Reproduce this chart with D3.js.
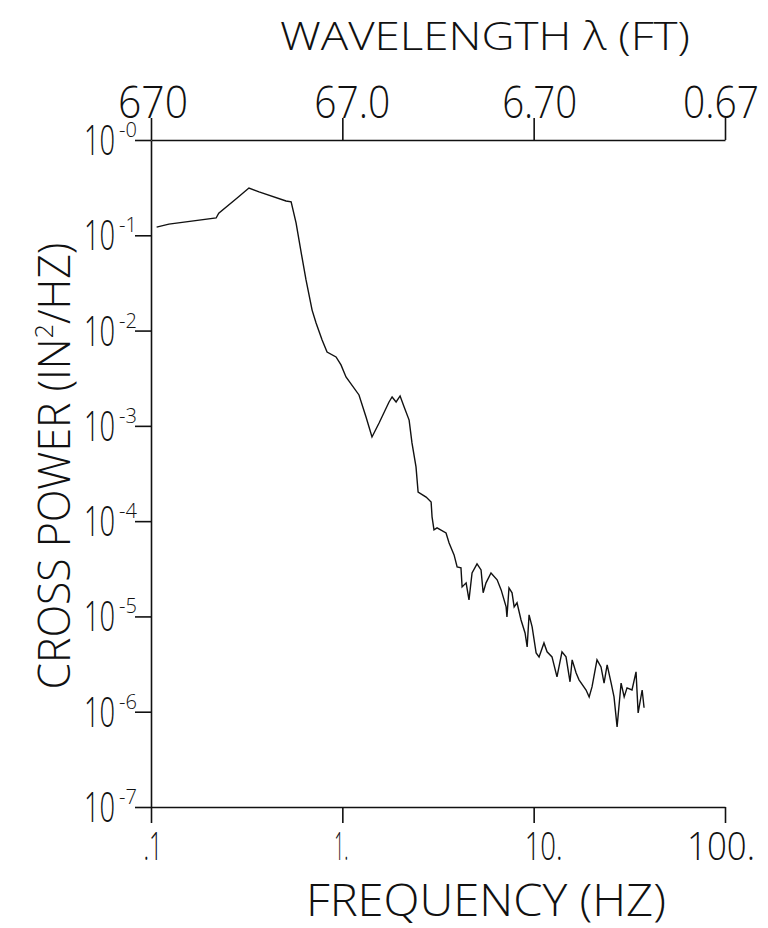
<!DOCTYPE html>
<html>
<head>
<meta charset="utf-8">
<script src="https://cdn.jsdelivr.net/npm/d3@7"></script>
<style>
  body { margin: 0; background: #fff; }
  text { font-family: "Open Sans", "DejaVu Sans", sans-serif; font-weight: 300; fill: #111; }
  .axis path, .axis line { stroke: #111; stroke-width: 1.6; }
</style>
</head>
<body>
<div id="chart"></div>
<script>
// cross power spectrum, log-log

const freqTicks = [0.1, 1, 10, 100];
const freqLabels = [".1", "1.", "10.", "100."];
const lambdaTicks = [670, 67, 6.7, 0.67];
const lambdaLabels = ["670", "67.0", "6.70", "0.67"];
const powerTicks = [1, 1e-1, 1e-2, 1e-3, 1e-4, 1e-5, 1e-6, 1e-7];
const powerExp = ["-0", "-1", "-2", "-3", "-4", "-5", "-6", "-7"];

const freq = [0.107, 0.124, 0.219, 0.226, 0.282, 0.325, 0.367, 0.508, 0.540, 0.573,
  0.615, 0.646, 0.695, 0.729, 0.784, 0.832, 0.927, 0.984, 1.045, 1.222,
  1.330, 1.429, 1.556, 1.754, 1.820, 1.910, 2.004, 2.104, 2.234, 2.312,
  2.427, 2.489, 2.741, 2.911, 2.944, 3.013, 3.126, 3.483, 3.614, 3.837,
  3.981, 4.169, 4.227, 4.436, 4.592, 4.764, 5.058, 5.309, 5.445, 5.636,
  5.984, 6.442, 6.761, 7.178, 7.25, 7.430, 7.709, 7.907, 8.185, 8.590,
  9.016, 9.247, 9.462, 9.817, 10.30, 10.67, 11.32, 11.75, 12.47, 13.24,
  14.06, 14.76, 15.49, 15.89, 16.67, 17.26, 18.79, 19.50, 20.18, 21.43,
  22.49, 23.33, 24.21, 25.41, 26.30, 27.29, 28.64, 29.72, 30.76, 32.66,
  34.28, 35.16, 36.90, 37.76];
const power = [0.122, 0.131, 0.152, 0.171, 0.246, 0.313, 0.285, 0.229, 0.224, 0.135,
  0.0592, 0.0340, 0.0164, 0.0120, 0.00796, 0.00596, 0.00528, 0.00436, 0.00326, 0.00211,
  0.00124, 0.000765, 0.00107, 0.00178, 0.00201, 0.00178, 0.00206, 0.00158, 0.00115, 0.000662,
  0.000371, 0.000202, 0.000179, 0.000159, 1.11e-4, 8.09e-5, 8.49e-5, 7.52e-5, 5.90e-5, 4.42e-5,
  3.30e-5, 3.23e-5, 2.04e-5, 2.25e-5, 1.49e-5, 2.86e-5, 3.56e-5, 3.08e-5, 1.77e-5, 2.25e-5,
  2.86e-5, 2.42e-5, 1.90e-5, 1.26e-5, 9.89e-6, 1.99e-5, 1.77e-5, 1.26e-5, 1.39e-5, 9.18e-6,
  6.71e-6, 4.79e-6, 1.04e-5, 7.76e-6, 4.14e-6, 3.76e-6, 5.27e-6, 4.25e-6, 3.76e-6, 2.32e-6,
  4.25e-6, 3.76e-6, 2.06e-6, 3.50e-6, 2.55e-6, 2.16e-6, 1.69e-6, 1.43e-6, 1.82e-6, 3.50e-6,
  2.95e-6, 2.00e-6, 3.10e-6, 2.00e-6, 1.43e-6, 6.93e-7, 2.00e-6, 1.43e-6, 1.78e-6, 1.69e-6,
  2.62e-6, 9.71e-7, 1.69e-6, 1.10e-6];

const W = 768, H = 928;
const plotLeft = 151, plotRight = 725, plotTop = 140, plotBottom = 807;
// the lettering is narrower than the font, so labels get squeezed a bit
const xLabelShift = [2, -1, 10, -4];
const xLabelWidth = [19, 14, 38, 68];
const topLabelShift = [2, 10, 6, -4];
const topLabelWidth = [70, 76, 75, 76];

const svg = d3.select("#chart").append("svg")
  .attr("width", W)
  .attr("height", H);

const x = d3.scaleLog().domain([0.1, 100]).range([plotLeft, plotRight]);
const xTop = d3.scaleLog().domain([670, 0.67]).range([plotLeft, plotRight]);
const y = d3.scaleLog().domain([1, 1e-7]).range([plotTop, plotBottom]);

// bottom axis
svg.append("g")
  .attr("class", "axis")
  .attr("transform", `translate(0, ${plotBottom})`)
  .call(d3.axisBottom(x).tickValues(freqTicks).tickFormat("").tickSizeInner(16).tickSizeOuter(0));

svg.selectAll(".xlab")
  .data(freqTicks)
  .enter().append("text")
  .attr("class", "xlab")
  .attr("x", (d, i) => x(d) + xLabelShift[i])
  .attr("y", 860)
  .attr("text-anchor", "middle")
  .attr("textLength", (d, i) => xLabelWidth[i])
  .attr("lengthAdjust", "spacingAndGlyphs")
  .style("font-size", "39px")
  .text((d, i) => freqLabels[i]);

// top axis (wavelength)
svg.append("g")
  .attr("class", "axis")
  .attr("transform", `translate(0, ${plotTop})`)
  .call(d3.axisTop(xTop).tickValues(lambdaTicks).tickFormat("").tickSizeInner(22).tickSizeOuter(0));

svg.selectAll(".tlab")
  .data(lambdaTicks)
  .enter().append("text")
  .attr("class", "tlab")
  .attr("x", (d, i) => xTop(d) + topLabelShift[i])
  .attr("y", 118)
  .attr("text-anchor", "middle")
  .attr("textLength", (d, i) => topLabelWidth[i])
  .attr("lengthAdjust", "spacingAndGlyphs")
  .style("font-size", "44px")
  .text((d, i) => lambdaLabels[i]);

// left axis
svg.append("g")
  .attr("class", "axis")
  .attr("transform", `translate(${plotLeft}, 0)`)
  .call(d3.axisLeft(y).tickValues(powerTicks).tickFormat("").tickSizeInner(16).tickSizeOuter(0));

// 10 with a superscript exponent; the "10" is squeezed with a transform
const ylab = svg.selectAll(".ylab")
  .data(powerTicks)
  .enter().append("g")
  .attr("class", "ylab")
  .attr("transform", d => `translate(84, ${y(d) + 15})`);

ylab.append("text")
  .attr("transform", "scale(0.65, 1)")
  .style("font-size", "42px")
  .text("10");

ylab.append("text")
  .attr("x", 35)
  .attr("y", -18)
  .style("font-size", "20px")
  .text((d, i) => powerExp[i]);

// curve
const line = d3.line()
  .x(d => x(d[0]))
  .y(d => y(d[1]));

svg.append("path")
  .datum(freq.map((f, i) => [f, power[i]]))
  .attr("d", line)
  .attr("fill", "none")
  .attr("stroke", "#111")
  .attr("stroke-width", 1.4);

// titles
svg.append("text")
  .attr("x", 485)
  .attr("y", 50)
  .attr("text-anchor", "middle")
  .attr("textLength", 410)
  .attr("lengthAdjust", "spacingAndGlyphs")
  .style("font-size", "39px")
  .text("WAVELENGTH λ (FT)");

svg.append("text")
  .attr("x", 486)
  .attr("y", 916)
  .attr("text-anchor", "middle")
  .attr("textLength", 360)
  .attr("lengthAdjust", "spacingAndGlyphs")
  .style("font-size", "44px")
  .text("FREQUENCY (HZ)");

const ytitle = svg.append("text")
  .attr("transform", "translate(70, 466) rotate(-90)")
  .attr("text-anchor", "middle")
  .attr("textLength", 447)
  .attr("lengthAdjust", "spacingAndGlyphs")
  .style("font-size", "44px");
ytitle.append("tspan").text("CROSS POWER (IN");
ytitle.append("tspan").attr("dy", -17).style("font-size", "26px").text("2");
ytitle.append("tspan").attr("dy", 17).text("/HZ)");
</script>
</body>
</html>
